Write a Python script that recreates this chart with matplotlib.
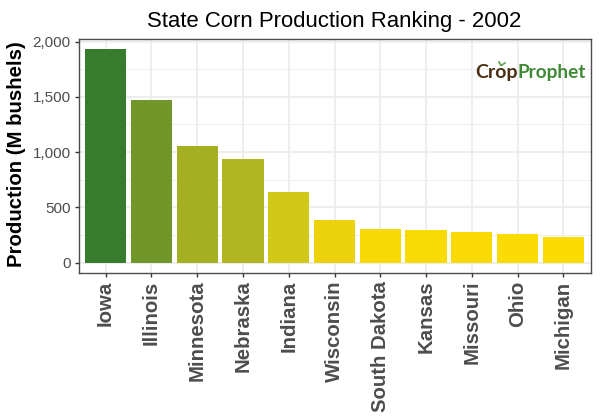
import matplotlib
matplotlib.use("Agg")
import matplotlib.pyplot as plt
from matplotlib.lines import Line2D

plt.rcParams['font.family'] = ['Liberation Sans', 'DejaVu Sans']

states = ["Iowa", "Illinois", "Minnesota", "Nebraska", "Indiana", "Wisconsin",
          "South Dakota", "Kansas", "Missouri", "Ohio", "Michigan"]
production = [1929, 1470, 1054, 936, 635, 389, 303, 297, 279, 261, 233]
bar_colors = ["#377B2C", "#71972B", "#A4B022", "#B0B521", "#D2C817", "#ECD20C",
              "#F7D905", "#F8DA04", "#F9DA04", "#FADB03", "#FBDC02"]
y_ticks = [0, 500, 1000, 1500, 2000]
y_minor = [250, 750, 1250, 1750]
title = "State Corn Production Ranking - 2002"
y_label = "Production (M bushels)"

W, H = 600, 420
fig = plt.figure(figsize=(W / 100, H / 100), dpi=100)
L, R, T, B = 78.5, 590.5, 39.3, 272.8
ax = fig.add_axes([L / W, 1 - B / H, (R - L) / W, (B - T) / H])

x = list(range(1, len(states) + 1))
ax.set_axisbelow(True)
ax.bar(x, production, width=0.9, color=bar_colors, zorder=3)
ax.set_xlim(0.41, 11.59)
ax.set_ylim(-93, 2021)

ax.set_xticks(x)
ax.set_xticklabels(states, rotation=90, ha='center', va='top', fontsize=14.7,
                   fontweight='bold', color='#4D4D4D')
ax.set_yticks(y_ticks)
ax.set_yticklabels([f"{v:,}" for v in y_ticks], fontsize=11, color='#4D4D4D')
ax.set_yticks(y_minor, minor=True)
ax.tick_params(axis='both', which='major', length=3.2, width=1.0, color='#333333', pad=2.5)
ax.tick_params(axis='y', which='minor', length=0)
ax.grid(True, which='major', color='#EDEDED', linewidth=1.3)
ax.grid(True, which='minor', axis='y', color='#EFEFEF', linewidth=0.7)
for s in ax.spines.values():
    s.set_color('#4D4D4D')
    s.set_linewidth(1.0)
    s.set_zorder(5)

fig.text(334.5 / W, 1 - 21 / H, title, ha='center', va='center', fontsize=15.9, color='black')
fig.text(17 / W, 1 - 154.5 / H, y_label, rotation=90, ha='center', va='center',
         fontsize=14.7, fontweight='bold', color='black')

logo_y = 1 - 72.5 / H
fig.text(475 / W, logo_y, "Crop", ha='left', va='center', fontsize=14,
         fontweight='bold', color='#4A2E12', family=['Lato', 'DejaVu Sans'])
fig.text(517.5 / W, logo_y, "Prophet", ha='left', va='center', fontsize=13.7,
         fontweight='bold', color='#3F8A35', family=['Lato', 'DejaVu Sans'])
# small sprout above the "o" of the logo
fig.add_artist(Line2D([499 / W, 501 / W, 505 / W], [1 - 62 / H, 1 - 65.5 / H, 1 - 63 / H],
                      color='#5E9E50', linewidth=1.2))

fig.savefig("out.png", dpi=100, facecolor='white')
